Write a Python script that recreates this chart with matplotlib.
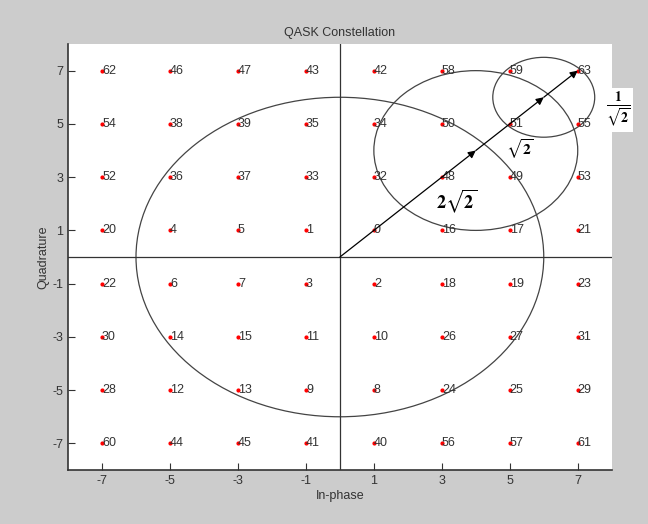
import matplotlib
matplotlib.use('Agg')
import matplotlib.pyplot as plt
from matplotlib.patches import Ellipse

plt.rcParams['font.family'] = ['Liberation Sans', 'DejaVu Sans']
plt.rcParams['mathtext.fontset'] = 'stix'
plt.rcParams['axes.unicode_minus'] = False

# constellation grid (in-phase / quadrature levels)
i_levels = [-7, -5, -3, -1, 1, 3, 5, 7]
q_levels = [7, 5, 3, 1, -1, -3, -5, -7]

# symbol numbers, one row per quadrature level (top to bottom)
symbol_rows = [
    [62, 46, 47, 43, 42, 58, 59, 63],
    [54, 38, 39, 35, 34, 50, 51, 55],
    [52, 36, 37, 33, 32, 48, 49, 53],
    [20, 4, 5, 1, 0, 16, 17, 21],
    [22, 6, 7, 3, 2, 18, 19, 23],
    [30, 14, 15, 11, 10, 26, 27, 31],
    [28, 12, 13, 9, 8, 24, 25, 29],
    [60, 44, 45, 41, 40, 56, 57, 61],
]

# circles: centre x, centre y, radius
circle_x = [0, 4, 6]
circle_y = [0, 4, 6]
circle_r = [6, 3, 1.5]

# arrow from origin with heads at these points
arrow_pts = [(0, 0), (4, 4), (6, 6), (7, 7)]

fig = plt.figure(figsize=(6.48, 5.24), dpi=100)
fig.patch.set_facecolor('#cccccc')
ax = fig.add_axes([0.105, 0.103, 0.839, 0.813])
ax.set_facecolor('white')

for row, q in zip(symbol_rows, q_levels):
    for num, i in zip(row, i_levels):
        ax.plot(i, q, '.', color='red', markersize=4)
        ax.text(i, q, str(num), fontsize=9, color='#333333',
                ha='left', va='center')

ax.axhline(0, color='#333333', lw=0.9)
ax.axvline(0, color='#333333', lw=0.9)

for cx, cy, r in zip(circle_x, circle_y, circle_r):
    ax.add_patch(Ellipse((cx, cy), 2 * r, 2 * r, fill=False,
                         edgecolor='#444444', lw=0.9))

for start, end in zip(arrow_pts[:-1], arrow_pts[1:]):
    ax.annotate('', xy=end, xytext=start,
                arrowprops=dict(arrowstyle='-|>', color='black', lw=0.9,
                                mutation_scale=11, shrinkA=0, shrinkB=0))

ax.text(3.45, 2.1, r'$\mathbf{2}\sqrt{\mathbf{2}}$', fontsize=13,
        ha='center', va='center')
ax.text(5.3, 4.05, r'$\sqrt{\mathbf{2}}$', fontsize=11,
        ha='center', va='center')
fig.text(0.954, 0.79, r'$\frac{\mathbf{1}}{\sqrt{\mathbf{2}}}$', fontsize=14,
         ha='center', va='center',
         bbox=dict(facecolor='white', edgecolor='none', pad=2))

ax.set_xlim(-8, 8)
ax.set_ylim(-8, 8)
ax.set_xticks(i_levels)
ax.set_yticks(sorted(q_levels))
ax.spines['top'].set_visible(False)
ax.spines['right'].set_visible(False)
ax.spines['left'].set_color('#333333')
ax.spines['bottom'].set_color('#333333')
ax.spines['left'].set_linewidth(1.2)
ax.spines['bottom'].set_linewidth(1.2)
ax.tick_params(direction='in', length=5, labelsize=9, colors='#333333')

ax.set_title('QASK Constellation', fontsize=9, color='#333333', pad=6)
ax.set_xlabel('In-phase', fontsize=9, color='#333333', labelpad=2)
ax.set_ylabel('Quadrature', fontsize=9, color='#333333', labelpad=2)

fig.savefig('out.png', dpi=100, facecolor=fig.get_facecolor())
